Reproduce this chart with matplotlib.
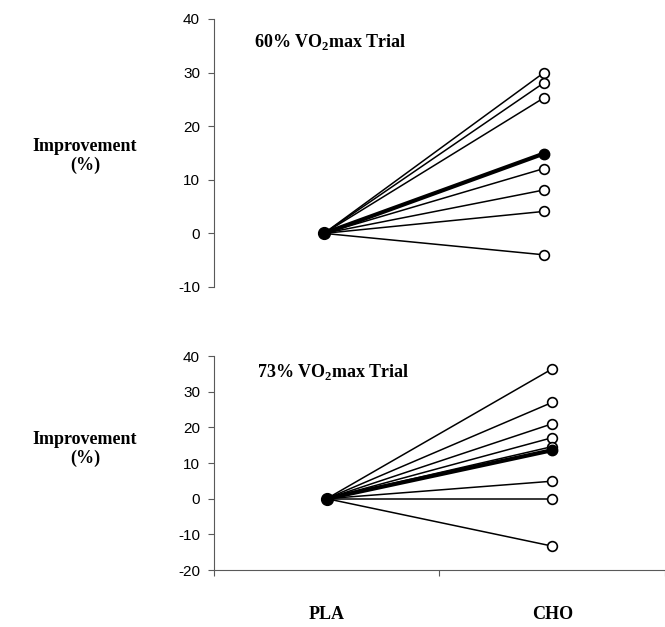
import numpy as np
import matplotlib.pyplot as plt

plt.rcParams['mathtext.fontset'] = 'custom'
plt.rcParams['mathtext.rm'] = 'Liberation Serif'
plt.rcParams['mathtext.bf'] = 'Liberation Serif:bold'
plt.rcParams['axes.unicode_minus'] = False

# individual improvements (%) at CHO, all start from 0 at PLA
top_vals = [30.0, 28.1, 25.3, 12.1, 8.1, 4.1, -4.0]
top_mean = 14.9
bot_vals = [36.4, 27.0, 21.0, 17.1, 14.6, 4.9, 0.0, -13.3]
bot_mean = 13.6

groups = ["PLA", "CHO"]
pos = [0.5, 1.5]

serif = ['Liberation Serif', 'DejaVu Serif']
sans = ['Liberation Sans', 'DejaVu Sans']
fs = 13

fig = plt.figure(figsize=(6.65, 6.27), dpi=100)
ax1 = fig.add_axes([0.3218, 0.5423, 0.6782, 0.4274])
ax2 = fig.add_axes([0.3218, 0.0909, 0.6782, 0.3413])


def draw_panel(ax, vals, mean):
    for v in vals:
        ax.plot(pos, [0, v], color='k', lw=1.1, zorder=2)
        ax.plot(pos[1], v, 'o', mfc='white', mec='k', mew=1.2, ms=7, zorder=3)
    ax.plot(pos, [0, mean], color='k', lw=3, zorder=4)
    ax.plot(pos[1], mean, 'o', color='k', ms=7.5, zorder=5)
    ax.plot(pos[0], 0, 'o', color='k', ms=8.5, zorder=5)
    for s in ['top', 'right']:
        ax.spines[s].set_visible(False)
    ax.spines['left'].set_color('0.35')
    ax.spines['left'].set_linewidth(0.8)
    ax.tick_params(axis='y', direction='out', length=4, width=0.8, color='0.35',
                   pad=6, labelsize=11)


# top panel
draw_panel(ax1, top_vals, top_mean)
ax1.set_ylim(-10, 40)
ax1.set_yticks(np.arange(-10, 41, 10))
ax1.set_xlim(0, 2.05)
ax1.spines['bottom'].set_visible(False)
ax1.set_xticks([])
for lab in ax1.get_yticklabels():
    lab.set_family(sans)
ax1.text(0.18, 35.8, "60% VO$_\\mathbf{2}$max Trial", fontsize=fs, fontweight='bold',
         family=serif, va='center', ha='left')

# bottom panel
draw_panel(ax2, bot_vals, bot_mean)
ax2.set_ylim(-20, 40)
ax2.set_yticks(np.arange(-20, 41, 10))
ax2.set_xlim(0, 2.0)
ax2.set_xticks([0, 1, 2])
ax2.set_xticklabels([])
ax2.spines['bottom'].set_color('0.35')
ax2.spines['bottom'].set_linewidth(0.8)
ax2.tick_params(axis='x', direction='out', length=4, width=0.8, color='0.35')
for lab in ax2.get_yticklabels():
    lab.set_family(sans)
ax2.text(0.19, 35.6, "73% VO$_\\mathbf{2}$max Trial", fontsize=fs, fontweight='bold',
         family=serif, va='center', ha='left')

for p, g in zip(pos, groups):
    ax2.text(p, -32.5, g, fontsize=fs, fontweight='bold', family=serif,
             ha='center', va='center')

# y labels
fig.text(85 / 665, 1 - 156 / 627, "Improvement\n(%)", fontsize=fs, fontweight='bold',
         family=serif, ha='center', va='center', linespacing=1.1)
fig.text(85 / 665, 1 - 449 / 627, "Improvement\n(%)", fontsize=fs, fontweight='bold',
         family=serif, ha='center', va='center', linespacing=1.1)

fig.savefig("out.png", dpi=100)
